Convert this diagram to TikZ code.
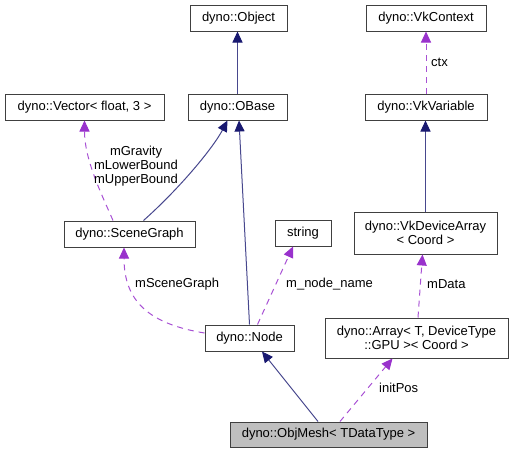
\documentclass[tikz,border=0pt]{standalone}
\usepackage{fontspec}
\setmainfont{Liberation Sans}
\usetikzlibrary{arrows.meta}
\definecolor{inh}{RGB}{25,25,112}
\definecolor{usg}{RGB}{153,50,204}
\definecolor{bord}{RGB}{64,64,64}
\begin{document}
\begin{tikzpicture}[x=1pt,y=-1pt,
  box/.style={draw=bord,line width=1pt,fill=white,inner sep=0pt,minimum height=26pt,align=center,
    font=\fontsize{13}{14.5}\selectfont},
  lbl/.style={inner sep=0pt,align=center,font=\fontsize{13}{14}\selectfont},
  inhedge/.style={draw=inh!80!white,line width=1pt,-{Triangle[length=11pt,width=10pt,color=inh,fill=inh]}},
  useedge/.style={draw=usg!85!white,line width=1pt,dash pattern=on 6pt off 5pt,-{Triangle[length=11pt,width=10pt,color=usg,fill=usg]}}]
\useasboundingbox (0,0) rectangle (513,453);
\node[box,minimum width=97pt] (Object) at (238.5,18) {dyno::Object};
\node[box,minimum width=120pt] (VkContext) at (426,18) {dyno::VkContext};
\node[box,minimum width=159pt] (Vector) at (84.5,107) {dyno::Vector< float, 3 >};
\node[box,minimum width=99pt] (OBase) at (237.5,107) {dyno::OBase};
\node[box,minimum width=122pt] (VkVariable) at (426,107) {dyno::VkVariable};
\node[box,minimum width=131pt] (SceneGraph) at (129.5,234) {dyno::SceneGraph};
\node[box,minimum width=56pt] (string) at (303,233) {string};
\node[box,minimum width=143pt,minimum height=42pt] (VkDeviceArray) at (425.5,233) {dyno::VkDeviceArray\\< Coord >};
\node[box,minimum width=89pt] (Node) at (249.5,338) {dyno::Node};
\node[box,minimum width=183pt,minimum height=40pt] (Array) at (416.5,338) {dyno::Array< T, DeviceType\\::GPU >< Coord >};
\node[box,minimum width=197pt,minimum height=25pt,fill={rgb,255:red,191;green,191;blue,191}] (ObjMesh) at (328.5,434.5) {dyno::ObjMesh< TDataType >};

\draw[inhedge] (OBase.north) -- (OBase.north |- Object.south);
\draw[useedge] (VkVariable.north) -- (VkContext.south);
\draw[inhedge] (VkDeviceArray.north) -- (VkDeviceArray.north |- VkVariable.south);
\draw[useedge] ([xshift=-16.5pt]SceneGraph.north) .. controls (102,195) and (84.5,160) .. (Vector.south);
\draw[inhedge] ([xshift=14pt]SceneGraph.north) .. controls (180,188) and (213,148) .. ([xshift=-10pt]OBase.south);
\draw[inhedge] (Node.north) -- ([xshift=1.5pt]OBase.south);
\draw[useedge] ([yshift=5pt]Node.west) .. controls (150,324) and (124,302) .. ([xshift=-5.5pt]SceneGraph.south);
\draw[useedge] ([xshift=8pt]Node.north) -- ([xshift=-10pt]string.south);
\draw[useedge] ([xshift=1.5pt]Array.north) -- ([xshift=-3pt]VkDeviceArray.south);
\draw[useedge] ([xshift=11.5pt]ObjMesh.north) -- ([xshift=-24pt]Array.south);
\draw[inhedge] ([xshift=-10.5pt]ObjMesh.north) -- ([xshift=12.5pt]Node.south);

\node[lbl] (lctx) at (439.5,62) {ctx};
\node[lbl] (lvec) at (136,166) {mGravity\\mLowerBound\\mUpperBound};
\node[lbl,anchor=west] (lsg) at (135,284) {mSceneGraph};
\node[lbl,anchor=west] (lnn) at (286,284) {m\_node\_name};
\node[lbl,anchor=west] (lmd) at (427,284) {mData};
\node[lbl,anchor=west] (lip) at (379,388) {initPos};
\end{tikzpicture}
\end{document}
